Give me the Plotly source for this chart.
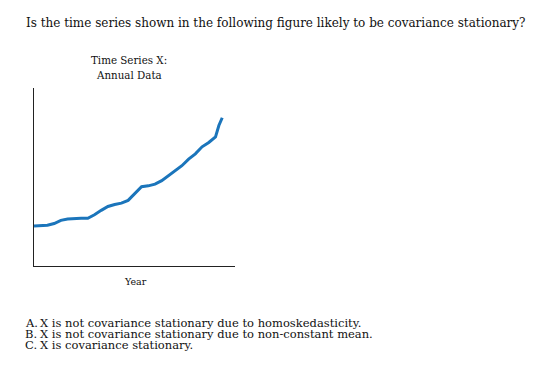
import plotly.graph_objects as go

# Data (year index, value)
years = [0, 2, 4, 6, 8, 10, 12, 14, 16, 18, 20, 22, 24, 26, 28, 30, 32, 34,
         36, 38, 40, 42, 44, 46, 48, 50, 52, 54, 55, 56]
values = [22.5, 22.7, 23.0, 24.0, 25.8, 26.6, 27.0, 27.0, 27.0, 29.0, 31.5,
          33.7, 34.8, 35.6, 37.2, 41.0, 45.0, 45.5, 46.5, 48.5, 51.5, 54.5,
          57.0, 60.8, 63.8, 67.8, 70.3, 73.5, 80.0, 84.4]

question = "Is the time series shown in the following figure likely to be covariance stationary?"
title_lines = ["Time Series X:", "Annual Data"]
x_label = "Year"
option_letters = ["A.", "B.", "C."]
option_texts = [
    "X is not covariance stationary due to homoskedasticity.",
    "X is not covariance stationary due to non-constant mean.",
    "X is covariance stationary.",
]

W, H = 540, 372
FONT = "DejaVu Serif"
INK = "#111111"


def px_x(p):
    return p / W


def px_y(p):
    return 1 - p / H


fig = go.Figure()
fig.add_trace(go.Scatter(
    x=years, y=values, mode="lines",
    line=dict(color="#1b75bb", width=3),
    hoverinfo="skip", showlegend=False,
))

fig.update_layout(
    width=W, height=H,
    margin=dict(l=0, r=0, t=0, b=0),
    paper_bgcolor="white", plot_bgcolor="white",
    font=dict(family=FONT, color=INK),
    xaxis=dict(domain=[px_x(34), px_x(235)], range=[0, 59.8],
               showline=True, linecolor="#222222", linewidth=1.5,
               showgrid=False, zeroline=False, showticklabels=False,
               ticks="", fixedrange=True),
    yaxis=dict(domain=[px_y(265.5), px_y(88)], range=[0, 101.4],
               showline=True, linecolor="#222222", linewidth=1.5,
               showgrid=False, zeroline=False, showticklabels=False,
               ticks="", fixedrange=True),
)

ann = []
ann.append(dict(text=question, x=px_x(24), y=px_y(22.5), xref="paper", yref="paper",
                xanchor="left", yanchor="middle", showarrow=False,
                font=dict(family=FONT, size=12, color=INK)))
for i, t in enumerate(title_lines):
    ann.append(dict(text=t, x=px_x(129), y=px_y(60.5 + i * 15), xref="paper", yref="paper",
                    xanchor="center", yanchor="middle", showarrow=False,
                    font=dict(family=FONT, size=10.3, color=INK)))
ann.append(dict(text=x_label, x=px_x(135), y=px_y(281), xref="paper", yref="paper",
                xanchor="center", yanchor="middle", showarrow=False,
                font=dict(family=FONT, size=9.5, color=INK)))
for i, (L, T) in enumerate(zip(option_letters, option_texts)):
    yy = 322.5 + i * 11
    ann.append(dict(text=L, x=px_x(22.5), y=px_y(yy), xref="paper", yref="paper",
                    xanchor="left", yanchor="middle", showarrow=False,
                    font=dict(family=FONT, size=11.5, color=INK)))
    ann.append(dict(text=T, x=px_x(37.5), y=px_y(yy), xref="paper", yref="paper",
                    xanchor="left", yanchor="middle", showarrow=False,
                    font=dict(family=FONT, size=11.5, color=INK)))
fig.update_layout(annotations=ann)

fig.write_html("out.html",
               config={"displayModeBar": False, "staticPlot": True},
               post_script="document.body.style.margin='0px';")
